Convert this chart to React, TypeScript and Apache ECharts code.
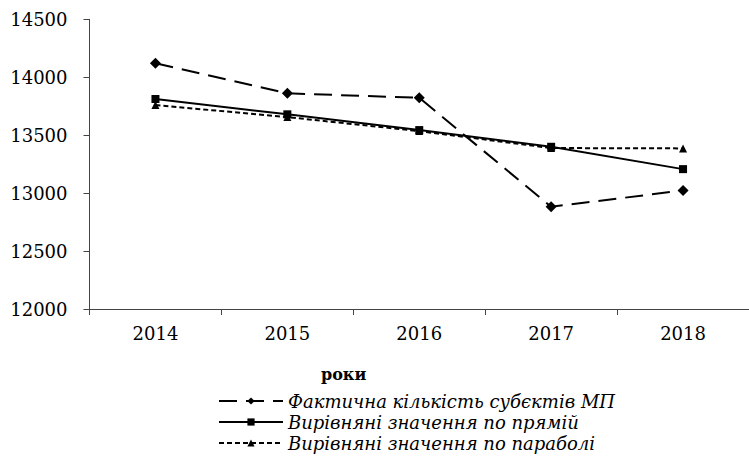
import React, { useEffect, useRef } from "react";
import * as echarts from "echarts";

const years = ["2014", "2015", "2016", "2017", "2018"];
const actual = [14120, 13861, 13823, 12882, 13023];
const linearFit = [13812, 13680, 13544, 13400, 13207];
const parabolaFit = [13760, 13656, 13535, 13389, 13386];
const seriesNames = [
  "Фактична кількість субєктів МП",
  "Вирівняні значення по прямій",
  "Вирівняні значення по параболі",
];
const xAxisTitle = "роки";

const FONT = "DejaVu Serif";
const legendTops = [392, 413, 434];

export default function App() {
  const ref = useRef<HTMLDivElement>(null);
  useEffect(() => {
    if (!ref.current) return;
    const chart = echarts.init(ref.current, undefined, { renderer: "svg" });
    chart.setOption({
      animation: false,
      backgroundColor: "#ffffff",
      textStyle: { fontFamily: FONT },
      grid: { left: 89.5, top: 19.3, right: -4.5, bottom: 148, containLabel: false },
      xAxis: {
        type: "category",
        data: years,
        boundaryGap: true,
        axisLine: { lineStyle: { color: "#444", width: 1 } },
        axisTick: { show: true, length: 6, lineStyle: { color: "#444" } },
        axisLabel: { color: "#000", fontSize: 18, fontFamily: FONT, margin: 15 },
        splitLine: { show: false },
      },
      yAxis: {
        type: "value",
        min: 12000,
        max: 14500,
        interval: 500,
        axisLine: { show: true, lineStyle: { color: "#444", width: 1 } },
        axisTick: { show: true, length: 6, lineStyle: { color: "#444" } },
        axisLabel: {
          color: "#000",
          fontSize: 18,
          fontFamily: FONT,
          margin: 22,
          formatter: (v: number) => String(v),
        },
        splitLine: { show: false },
      },
      legend: seriesNames.map((name, i) => ({
        orient: "vertical",
        left: 218,
        top: legendTops[i],
        itemWidth: 64,
        itemHeight: 9,
        itemTextGap: 5,
        padding: 0,
        textStyle: { color: "#000", fontSize: 18, fontStyle: "italic", fontFamily: FONT },
        data: [name],
      })),
      graphic: [
        {
          type: "text",
          left: 321,
          top: 366,
          style: {
            text: xAxisTitle,
            fontFamily: FONT,
            fontSize: 16,
            fontWeight: "bold",
            fill: "#000",
          },
        },
      ],
      series: [
        {
          name: seriesNames[0],
          type: "line",
          data: actual,
          symbol: "diamond",
          symbolSize: 11,
          itemStyle: { color: "#000" },
          lineStyle: { color: "#000", width: 2, type: [18, 9] },
        },
        {
          name: seriesNames[1],
          type: "line",
          data: linearFit,
          symbol: "rect",
          symbolSize: 8,
          itemStyle: { color: "#000" },
          lineStyle: { color: "#000", width: 2, type: "solid" },
        },
        {
          name: seriesNames[2],
          type: "line",
          data: parabolaFit,
          symbol: "triangle",
          symbolSize: 8,
          itemStyle: { color: "#000" },
          lineStyle: { color: "#000", width: 2, type: [5, 3] },
        },
      ],
    });
    return () => chart.dispose();
  }, []);
  return (
    <div
      ref={ref}
      style={{ position: "absolute", left: 0, top: 0, width: 749, height: 457 }}
    />
  );
}
